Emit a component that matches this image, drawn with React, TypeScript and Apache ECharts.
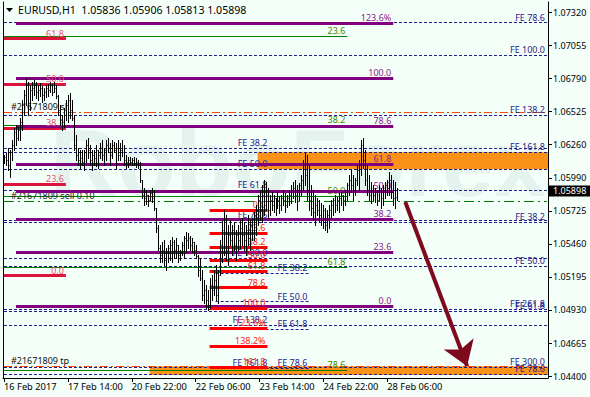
import React, { useEffect, useRef } from 'react';
import * as echarts from 'echarts';

const FONT = "'Noto Sans', 'DejaVu Sans', sans-serif";
const BG = '#F4FFFA';

// ---- header ----
const symbolTitle = 'EURUSD,H1';
const headerOHLC = [1.05836, 1.05906, 1.05813, 1.05898];

// ---- H1 bars (16 Feb 2017 06:00 .. 28 Feb 2017 11:00) ----
const opens = [
  1.06134,1.06158,1.06134,1.06094,1.06198,1.06255,1.06359,1.06311,1.06375,1.06439,
  1.06576,1.06656,1.06736,1.06576,1.06696,1.06712,1.06736,1.06680,1.06696,1.06712,
  1.06656,1.06680,1.06712,1.06696,1.06736,1.06680,1.06712,1.06648,1.06536,1.06455,
  1.06439,1.06536,1.06576,1.06616,1.06536,1.06471,1.06255,1.06174,1.06134,1.06150,
  1.06118,1.06198,1.06255,1.06215,1.06134,1.06174,1.06150,1.06215,1.06174,1.06231,
  1.06174,1.06215,1.06255,1.06231,1.06174,1.06255,1.06215,1.06231,1.06174,1.06215,
  1.06198,1.06134,1.06118,1.06134,1.06118,1.06134,1.06110,1.06118,1.06094,1.05974,
  1.05853,1.05829,1.05853,1.05813,1.05869,1.05829,1.05749,1.05588,1.05428,1.05371,
  1.05412,1.05331,1.05396,1.05428,1.05452,1.05476,1.05412,1.05452,1.05371,1.05396,
  1.05452,1.05508,1.05492,1.05508,1.05452,1.05476,1.05412,1.05363,1.05251,1.05187,
  1.05050,1.05090,1.05010,1.04970,1.05130,1.05090,1.05171,1.05050,1.05211,1.05452,
  1.05572,1.05652,1.05412,1.05532,1.05492,1.05572,1.05452,1.05532,1.05492,1.05588,
  1.05532,1.05492,1.05572,1.05508,1.05612,1.05636,1.05693,1.05733,1.05813,1.05733,
  1.05853,1.05773,1.05853,1.05733,1.05813,1.05773,1.05829,1.05749,1.05813,1.05773,
  1.05829,1.05813,1.05773,1.05829,1.05853,1.05893,1.05909,1.05853,1.05893,1.05933,
  1.05974,1.06094,1.06014,1.05893,1.05813,1.05749,1.05717,1.05773,1.05733,1.05693,
  1.05652,1.05733,1.05612,1.05693,1.05733,1.05773,1.05813,1.05773,1.05813,1.05829,
  1.05853,1.05813,1.05877,1.05933,1.05974,1.05933,1.05893,1.05974,1.06054,1.06094,
  1.06255,1.06134,1.05974,1.05893,1.05853,1.05893,1.05853,1.05877,1.05813,1.05893,
  1.05829,1.05893,1.05933,1.05909,1.05974,1.05877,1.05829,1.05836,
];
const closes = [
  1.06158,1.06134,1.06094,1.06198,1.06255,1.06359,1.06311,1.06375,1.06439,1.06576,
  1.06656,1.06736,1.06576,1.06696,1.06712,1.06736,1.06680,1.06696,1.06712,1.06656,
  1.06680,1.06712,1.06696,1.06736,1.06680,1.06712,1.06648,1.06536,1.06455,1.06439,
  1.06536,1.06576,1.06616,1.06536,1.06471,1.06255,1.06174,1.06134,1.06150,1.06118,
  1.06198,1.06255,1.06215,1.06134,1.06174,1.06150,1.06215,1.06174,1.06231,1.06174,
  1.06215,1.06255,1.06231,1.06174,1.06255,1.06215,1.06231,1.06174,1.06215,1.06198,
  1.06134,1.06118,1.06134,1.06118,1.06134,1.06110,1.06118,1.06094,1.05974,1.05853,
  1.05829,1.05853,1.05813,1.05869,1.05829,1.05749,1.05588,1.05428,1.05371,1.05412,
  1.05331,1.05396,1.05428,1.05452,1.05476,1.05412,1.05452,1.05371,1.05396,1.05452,
  1.05508,1.05492,1.05508,1.05452,1.05476,1.05412,1.05363,1.05251,1.05187,1.05050,
  1.05090,1.05010,1.04970,1.05130,1.05090,1.05171,1.05050,1.05211,1.05452,1.05572,
  1.05652,1.05412,1.05532,1.05492,1.05572,1.05452,1.05532,1.05492,1.05588,1.05532,
  1.05492,1.05572,1.05508,1.05612,1.05636,1.05693,1.05733,1.05813,1.05733,1.05853,
  1.05773,1.05853,1.05733,1.05813,1.05773,1.05829,1.05749,1.05813,1.05773,1.05829,
  1.05813,1.05773,1.05829,1.05853,1.05893,1.05909,1.05853,1.05893,1.05933,1.05974,
  1.06094,1.06014,1.05893,1.05813,1.05749,1.05717,1.05773,1.05733,1.05693,1.05652,
  1.05733,1.05612,1.05693,1.05733,1.05773,1.05813,1.05773,1.05813,1.05829,1.05853,
  1.05813,1.05877,1.05933,1.05974,1.05933,1.05893,1.05974,1.06054,1.06094,1.06255,
  1.06134,1.05974,1.05893,1.05853,1.05893,1.05853,1.05877,1.05813,1.05893,1.05829,
  1.05893,1.05933,1.05909,1.05974,1.05877,1.05829,1.05836,1.05898,
];
const highs = [
  1.06174,1.06190,1.06231,1.06215,1.06295,1.06391,1.06415,1.06399,1.06471,1.06616,
  1.06696,1.06793,1.06761,1.06736,1.06761,1.06777,1.06761,1.06736,1.06753,1.06728,
  1.06712,1.06736,1.06744,1.06761,1.06744,1.06761,1.06736,1.06656,1.06576,1.06496,
  1.06552,1.06616,1.06656,1.06672,1.06616,1.06496,1.06335,1.06231,1.06215,1.06215,
  1.06215,1.06295,1.06311,1.06255,1.06215,1.06215,1.06255,1.06215,1.06271,1.06295,
  1.06231,1.06295,1.06311,1.06271,1.06295,1.06279,1.06271,1.06295,1.06271,1.06295,
  1.06255,1.06174,1.06158,1.06158,1.06150,1.06158,1.06150,1.06134,1.06118,1.05974,
  1.05909,1.05893,1.05853,1.05893,1.05909,1.05893,1.05749,1.05612,1.05452,1.05476,
  1.05492,1.05428,1.05452,1.05492,1.05516,1.05492,1.05508,1.05452,1.05412,1.05476,
  1.05524,1.05556,1.05548,1.05524,1.05508,1.05476,1.05452,1.05371,1.05347,1.05251,
  1.05171,1.05130,1.05090,1.05187,1.05211,1.05251,1.05291,1.05251,1.05492,1.05652,
  1.05733,1.05693,1.05612,1.05652,1.05612,1.05636,1.05572,1.05612,1.05652,1.05668,
  1.05636,1.05612,1.05693,1.05652,1.05668,1.05717,1.05773,1.05853,1.05893,1.05933,
  1.05974,1.05958,1.05909,1.05853,1.05877,1.05853,1.05829,1.05877,1.05845,1.05853,
  1.05893,1.05869,1.05853,1.05893,1.05933,1.05958,1.05974,1.05933,1.05950,1.06014,
  1.06134,1.06190,1.06174,1.06094,1.05933,1.05893,1.05853,1.05829,1.05813,1.05789,
  1.05773,1.05749,1.05733,1.05773,1.05813,1.05829,1.05853,1.05837,1.05869,1.05877,
  1.05853,1.05893,1.05950,1.06014,1.06054,1.06014,1.05990,1.06094,1.06134,1.06295,
  1.06311,1.06215,1.06094,1.06014,1.05958,1.05933,1.05909,1.05893,1.05933,1.05909,
  1.05933,1.05958,1.05974,1.06038,1.06014,1.05974,1.05958,1.05906,
];
const lows = [
  1.06110,1.06094,1.06054,1.05998,1.06134,1.06215,1.06255,1.06295,1.06295,1.06375,
  1.06496,1.06576,1.06496,1.06536,1.06616,1.06656,1.06632,1.06616,1.06648,1.06600,
  1.06616,1.06640,1.06648,1.06680,1.06656,1.06680,1.06632,1.06496,1.06415,1.06375,
  1.06399,1.06455,1.06439,1.06471,1.06455,1.06215,1.06134,1.06094,1.06070,1.06094,
  1.06054,1.06118,1.06150,1.06094,1.06054,1.06094,1.06086,1.06070,1.06150,1.06134,
  1.06094,1.06134,1.06198,1.06094,1.06150,1.06198,1.06070,1.06134,1.06134,1.06166,
  1.06094,1.06070,1.06078,1.06102,1.06094,1.06094,1.06078,1.06070,1.05958,1.05829,
  1.05773,1.05781,1.05765,1.05813,1.05797,1.05733,1.05556,1.05412,1.05315,1.05315,
  1.05291,1.05251,1.05315,1.05331,1.05315,1.05347,1.05347,1.05315,1.05331,1.05371,
  1.05347,1.05396,1.05428,1.05412,1.05396,1.05371,1.05347,1.05203,1.05171,1.05010,
  1.04986,1.04946,1.04930,1.04946,1.05010,1.05050,1.05010,1.04986,1.05211,1.05315,
  1.05371,1.05331,1.05291,1.05452,1.05371,1.05412,1.05331,1.05412,1.05428,1.05452,
  1.05412,1.05371,1.05452,1.05412,1.05492,1.05492,1.05532,1.05612,1.05652,1.05636,
  1.05693,1.05733,1.05668,1.05693,1.05733,1.05717,1.05693,1.05749,1.05709,1.05733,
  1.05773,1.05717,1.05757,1.05773,1.05789,1.05829,1.05797,1.05733,1.05813,1.05853,
  1.05893,1.05933,1.05813,1.05733,1.05693,1.05652,1.05612,1.05693,1.05636,1.05612,
  1.05588,1.05572,1.05556,1.05588,1.05668,1.05693,1.05717,1.05733,1.05717,1.05773,
  1.05733,1.05773,1.05813,1.05853,1.05877,1.05813,1.05853,1.05933,1.05893,1.06014,
  1.06070,1.05933,1.05853,1.05813,1.05789,1.05813,1.05797,1.05773,1.05813,1.05749,
  1.05773,1.05829,1.05853,1.05853,1.05829,1.05773,1.05749,1.05813,
];

// ---- axes ----
const SLOT_COUNT = 273; // bars + empty right shift
const xTickLabels: Record<number, string> = {
  0: '16 Feb 2017', 32: '17 Feb 14:00', 64: '20 Feb 22:00', 96: '22 Feb 06:00',
  128: '23 Feb 14:00', 160: '24 Feb 22:00', 192: '28 Feb 06:00',
};
const yTickValues = [1.0732, 1.07055, 1.0679, 1.06525, 1.0626, 1.0599, 1.05725, 1.0546, 1.05195, 1.0493, 1.04665, 1.044];
const Y_MIN = 1.04384;
const Y_MAX = 1.07403;

// ---- drawing objects (level text, price) ----
type Level = [string, number];
const crimsonFibo: Level[] = [['61.8', 1.07108], ['50.0', 1.06744], ['38.2', 1.06391], ['23.6', 1.05941], ['0.0', 1.05205]];
const purpleFibo: Level[] = [['123.6%', 1.07232], ['100.0', 1.06793], ['78.6', 1.06407], ['61.8', 1.061], ['50.0', 1.05885], ['38.2', 1.0566], ['23.6', 1.05396], ['0.0', 1.04962]];
const greenFibo: Level[] = [['23.6', 1.0713], ['38.2', 1.06415], ['50.0', 1.05845], ['61.8', 1.05275], ['78.6', 1.04448]];
const redFibo: Level[] = [['0.0', 1.05733], ['23.6', 1.05546], ['38.2', 1.05433], ['50.0', 1.05331], ['61.8', 1.05245], ['78.6', 1.05109], ['100.0', 1.04948], ['123.6%', 1.04785], ['138.2%', 1.04641], ['161.8', 1.04472]];
const feRightA: Level[] = [['FE 78.6', 1.07237], ['FE 100.0', 1.06977], ['FE 138.2', 1.06496], ['FE 161.8', 1.06196], ['FE 261.8', 1.04935], ['FE 300.0', 1.0447]];
const feRightB: Level[] = [['FE 38.2', 1.05634], ['FE 50.0', 1.05283], ['FE 61.8', 1.04922], ['FE 78.6', 1.04416]];
const feMiddle: Level[] = [['FE 38.2', 1.06231], ['FE 50.0', 1.0606], ['FE 61.8', 1.05893], ['FE 78.6', 1.05652], ['FE 100.0', 1.05345], ['FE 138.2', 1.04809], ['FE 161.8', 1.04468]];
const feShort: Level[] = [['FE 38.2', 1.05227], ['FE 50.0', 1.04998], ['FE 61.8', 1.04777], ['FE 78.6', 1.04464]];
const orderSL: Level = ['#21671809 sl', 1.06517];
const orderEntry: Level = ['#21671809 sell 0.10', 1.05801];
const orderTP: Level = ['#21671809 tp', 1.0448];
// zones: [fromBar, toBar, top, bottom]
const zones = [[127, 272, 1.06196, 1.0606], [73, 272, 1.04476, 1.04408]];
// forecast arrow: [bar, price] start / end
const arrowPath = [[201, 1.05797], [232, 1.04478]];

const NAVY = '#1E1E8C';

function levelItems(levels: Level[], x0: number, x1: number, color: string, width: number, type: any, labelColor: string, opts: any = {}) {
  return levels.map(([text, price]) => ({
    coords: [[x0, price], [x1, price]],
    lineStyle: { color, width, type, opacity: 1 },
    label: { show: opts.noLabel ? false : true, formatter: text, color: labelColor, position: opts.position ?? 'insideEndTop', distance: opts.distance ?? [2, 1] },
  }));
}

function linesSeries(data: any[], z: number) {
  return {
    type: 'lines', coordinateSystem: 'cartesian2d', xAxisIndex: 0, yAxisIndex: 0,
    polyline: false, silent: true, z, symbol: ['none', 'none'],
    lineStyle: { opacity: 1 },
    label: { show: true, position: 'insideEndTop', fontSize: 9, fontFamily: FONT, distance: [2, 1] },
    data,
  };
}

export default function App() {
  const ref = useRef<HTMLDivElement>(null);
  useEffect(() => {
    if (!ref.current) return;
    const chart = echarts.init(ref.current, undefined, { renderer: 'svg' });
    const categories = Array.from({ length: SLOT_COUNT }, (_, i) => String(i));
    const barData = opens.map((o, i) => [i, o, closes[i], lows[i], highs[i]]);
    const LAST = SLOT_COUNT - 1;

    const dashed = [3, 2];
    const dashDot = [8, 3, 2, 3];

    const fibData = [
      ...levelItems(feRightA, 0, LAST, NAVY, 1, dashed, NAVY),
      ...levelItems(feRightB, 0, LAST, NAVY, 1, dashed, NAVY),
      ...levelItems(feMiddle, 0, LAST, NAVY, 1, dashed, NAVY, { noLabel: true }),
      ...levelItems(feMiddle, 0, 133, 'rgba(0,0,0,0)', 1, 'solid', NAVY),
      ...levelItems(feShort, 106, 153, NAVY, 1, dashed, NAVY),
      ...levelItems(greenFibo, 0, 172, '#008000', 1, 'solid', '#3F8A00'),
      ...levelItems([orderSL], 0, LAST, '#FF4500', 1, dashDot, '#111', { position: 'insideStartTop', distance: [7, 1] }),
      ...levelItems([orderEntry], 0, LAST, '#008000', 1, [10, 4, 2, 4], '#222', { position: 'insideStartTop', distance: [7, 2] }),
      ...levelItems([orderTP], 0, LAST, '#FF4500', 1, dashDot, '#111', { position: 'insideStartTop', distance: [7, 1] }),
    ];
    const thickData = [
      ...levelItems(crimsonFibo, 0, 31, '#DC143C', 3, 'solid', '#E8506A'),
      ...levelItems(purpleFibo, 6, 195, '#800080', 3, 'solid', '#8B1A8B'),
      ...levelItems(redFibo, 103, 132, '#FF0000', 3, 'solid', '#FF2020'),
    ];

    const option: any = {
      animation: false,
      backgroundColor: BG,
      grid: { left: 3, right: 42, top: 2, bottom: 19, containLabel: false },
      xAxis: {
        type: 'category', data: categories, boundaryGap: true,
        axisLine: { show: true, lineStyle: { color: '#000', width: 1 } },
        axisTick: { show: true, alignWithLabel: true, length: 4, interval: (i: number) => xTickLabels[i] !== undefined, lineStyle: { color: '#000' } },
        axisLabel: {
          interval: (i: number) => xTickLabels[i] !== undefined,
          formatter: (v: string) => xTickLabels[Number(v)] ?? '',
          align: 'left', color: '#000', fontSize: 9.3, fontFamily: FONT, margin: 4, hideOverlap: false,
        },
        splitLine: { show: false },
      },
      yAxis: [
        {
          type: 'value', position: 'right', min: Y_MIN, max: Y_MAX,
          axisLine: { show: true, lineStyle: { color: '#000' } },
          axisTick: { show: true, customValues: yTickValues, length: 4, inside: false, lineStyle: { color: '#000' } },
          axisLabel: { customValues: yTickValues, formatter: (v: number) => v.toFixed(5), color: '#000', fontSize: 9, fontFamily: FONT, margin: 5 },
          splitLine: { show: false },
        },
        {
          type: 'value', position: 'left', min: Y_MIN, max: Y_MAX,
          axisLine: { show: true, onZero: false, lineStyle: { color: '#000' } },
          axisTick: { show: false }, axisLabel: { show: false }, splitLine: { show: false },
        },
      ],
      graphic: [
        { id: 'wm', type: 'text', x: 50, y: 116, z: 0, silent: true,
          style: { text: 'RoboForex', fontSize: 94, fontWeight: 'bold', fontFamily: "'Liberation Sans', sans-serif", fill: 'rgba(140,170,178,0.14)', verticalAlign: 'top' } },
        { id: 'tri', type: 'polygon', z: 100, shape: { points: [[6, 8], [13, 8], [9.5, 12]] }, style: { fill: '#000' } },
        { id: 'hdr', type: 'text', x: 18, y: 10, z: 100,
          style: { text: `${symbolTitle}  ${headerOHLC.map((v) => v.toFixed(5)).join(' ')}`, fontSize: 10.6, fontFamily: FONT, fill: '#000', verticalAlign: 'middle' } },
      ],
      series: [
        {
          type: 'custom', name: 'zones', z: 1, silent: true, clip: true,
          data: zones,
          encode: { x: [0, 1], y: [2, 3] },
          renderItem: (params: any, api: any) => {
            const p1 = api.coord([api.value(0), api.value(2)]);
            const p2 = api.coord([api.value(1), api.value(3)]);
            const half = api.size([1, 0])[0] / 2;
            return { type: 'rect', shape: { x: p1[0], y: p1[1], width: p2[0] - p1[0] + half, height: p2[1] - p1[1] }, style: { fill: '#FA9218' } };
          },
        },
        linesSeries(fibData, 3),
        linesSeries(thickData, 4),
        {
          type: 'custom', name: 'EURUSD', z: 6, silent: true,
          data: barData,
          encode: { x: 0, y: [1, 2, 3, 4] },
          renderItem: (params: any, api: any) => {
            const i = api.value(0);
            const pO = api.coord([i, api.value(1)]);
            const pC = api.coord([i, api.value(2)]);
            const pL = api.coord([i, api.value(3)]);
            const pH = api.coord([i, api.value(4)]);
            const x = Math.round(pL[0]) + 0.5;
            const yo = Math.round(pO[1]) + 0.5;
            const yc = Math.round(pC[1]) + 0.5;
            const st = { stroke: '#000', lineWidth: 1 };
            const tk = { stroke: '#000', lineWidth: 1, opacity: 0.6 };
            return {
              type: 'group',
              children: [
                { type: 'line', shape: { x1: x, y1: Math.round(pH[1]), x2: x, y2: Math.round(pL[1]) + 1 }, style: st },
                { type: 'line', shape: { x1: x - 1, y1: yo, x2: x, y2: yo }, style: tk },
                { type: 'line', shape: { x1: x, y1: yc, x2: x + 1, y2: yc }, style: tk },
              ],
            };
          },
        },
        {
          type: 'lines', coordinateSystem: 'cartesian2d', z: 7, silent: true,
          symbol: ['none', 'arrow'], symbolSize: [17, 24],
          lineStyle: { color: '#7E0A1E', width: 4, opacity: 1 },
          data: [{ coords: arrowPath }],
        },
      ],
    };
    chart.setOption(option);

    const lastClose = closes[closes.length - 1];
    const yPix = chart.convertToPixel({ yAxisIndex: 0 }, lastClose) as number;
    chart.setOption({
      graphic: [
        { id: 'priceBox', type: 'rect', z: 120, shape: { x: 548, y: yPix - 4, width: 42, height: 11 }, style: { fill: '#000' } },
        { id: 'priceTxt', type: 'text', z: 121, x: 553, y: yPix + 1.5, style: { text: lastClose.toFixed(5), fill: '#fff', fontSize: 9, fontFamily: FONT, verticalAlign: 'middle' } },
      ],
    });
    return () => chart.dispose();
  }, []);
  return <div ref={ref} style={{ position: 'absolute', left: 0, top: 0, width: 590, height: 397 }} />;
}
